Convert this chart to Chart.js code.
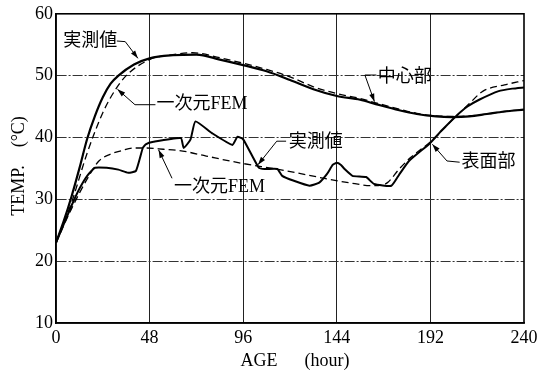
<!DOCTYPE html>
<html>
<head>
<meta charset="utf-8">
<script src="https://cdn.jsdelivr.net/npm/chart.js@4/dist/chart.umd.min.js"></script>
<style>
  html, body { margin: 0; padding: 0; background: #fff; }
  #wrap { width: 549px; height: 372px; }
</style>
</head>
<body>
<div id="wrap"><canvas id="c" width="549" height="372"></canvas></div>
<script>
// Concrete temperature history: centre and surface, measured vs. 1-D FEM
const xTicks = [0, 48, 96, 144, 192, 240];
const yTicks = [10, 20, 30, 40, 50, 60];

// centre, measured
const centerMeasHours = [0, 4, 8, 12, 16, 20, 24, 28, 32, 40, 48, 60, 72, 84, 96, 108, 120, 132, 144, 156, 164, 176, 185, 195, 203, 212, 221, 230, 240];
const centerMeasTemp  = [23, 26.5, 30.5, 35, 39.8, 43.5, 46.5, 48.7, 50, 51.8, 52.8, 53.3, 53.4, 52.6, 51.7, 50.7, 49.3, 47.8, 46.7, 46.1, 45.4, 44.4, 43.8, 43.4, 43.3, 43.4, 43.8, 44.2, 44.5];

// centre, 1-D FEM
const centerFemHours = [0, 8, 16, 24, 30, 36, 48, 60, 70, 84, 96, 108, 120, 132, 144, 156, 164, 176, 185, 195, 203, 212, 221, 230, 240];
const centerFemTemp  = [23, 29.5, 37.5, 44, 47.5, 50, 52.6, 53.4, 53.7, 52.9, 52, 51, 49.8, 48.2, 47.1, 46.3, 45.6, 44.6, 43.9, 43.5, 43.4, 43.5, 43.8, 44.2, 44.5];

// surface, measured
const surfMeasHours = [0, 4, 8, 12, 16, 20, 26, 32, 37, 41, 44.5, 46, 50, 64, 65.5, 69, 71.5, 80, 90.5, 93, 96, 104, 107, 113.5, 116, 122, 130, 135, 139, 142, 144, 146, 148, 152, 159, 163, 172, 176, 181, 191.5, 198, 205, 211, 217, 227, 234, 240];
const surfMeasTemp  = [23, 26, 29, 31.7, 33.8, 35.1, 35.1, 34.8, 34.3, 34.6, 38.3, 38.9, 39.3, 39.9, 38.3, 39.7, 42.6, 40.7, 38.8, 40.1, 39.7, 35.1, 34.9, 34.9, 33.8, 33, 32.2, 32.7, 34.1, 35.6, 35.9, 35.6, 34.9, 33.8, 33.6, 32.5, 32.2, 34, 36.2, 39, 41.2, 43.4, 45, 46.1, 47.5, 47.9, 48.1];

// surface, 1-D FEM
const surfFemHours = [0, 8, 16, 22, 28, 34, 40, 46, 55, 65, 77, 94, 114.7, 128, 139, 150, 162, 167, 170, 176, 182, 192, 205, 212, 219, 230, 240];
const surfFemTemp  = [23, 28.5, 33.3, 36.2, 37.3, 37.9, 38.3, 38.3, 38.1, 37.8, 37, 35.9, 34.8, 34, 33.3, 32.7, 32.2, 32.3, 32.7, 34.9, 36.8, 39.3, 43.4, 45.5, 47.5, 48.5, 49.2];

const pts = (xs, ys) => xs.map((x, i) => ({ x: x, y: ys[i] }));

const SERIF = "'Liberation Serif', 'Noto Sans CJK JP', serif";

// callout labels with leader lines (in hours / °C)
const callouts = [
  { text: '実測値',   at: [17.6, 55.6], align: 'center', leader: [[31.2, 55.6], [35.5, 55.5], [42, 52.8]] },
  { text: '一次元FEM', at: [51.5, 45.3], align: 'left',   leader: [[51, 45.3], [40.5, 45.3], [31.5, 47.8]] },
  { text: '実測値',   at: [133.2, 39.3], align: 'center', leader: [[118, 39.4], [113.2, 39.4], [103.6, 35.6]] },
  { text: '一次元FEM', at: [60.5, 32.0], align: 'left',   leader: [[59.5, 33.4], [52.6, 38.0]] },
  { text: '中心部',   at: [165, 49.8], align: 'left',   leader: [[164.3, 50.1], [158.4, 50.1], [163.3, 45.8]] },
  { text: '表面部',   at: [208, 36.0], align: 'left',   leader: [[207, 36.0], [200.5, 36.2], [193, 38.9]] }
];

const decor = {
  id: 'decor',
  afterDraw(chart) {
    const { ctx, chartArea: a, scales: { x, y } } = chart;
    ctx.save();
    // frame
    ctx.strokeStyle = '#000';
    ctx.lineWidth = 1.6;
    ctx.setLineDash([]);
    ctx.strokeRect(a.left, a.top, a.right - a.left, a.bottom - a.top);

    // callouts
    ctx.fillStyle = '#000';
    ctx.lineWidth = 1;
    ctx.font = "18px " + SERIF;
    ctx.textBaseline = 'middle';
    callouts.forEach(c => {
      ctx.textAlign = c.align;
      ctx.fillText(c.text, x.getPixelForValue(c.at[0]), y.getPixelForValue(c.at[1]));
      const p = c.leader.map(q => [x.getPixelForValue(q[0]), y.getPixelForValue(q[1])]);
      ctx.beginPath();
      ctx.moveTo(p[0][0], p[0][1]);
      for (let i = 1; i < p.length; i++) ctx.lineTo(p[i][0], p[i][1]);
      ctx.stroke();
      const e = p[p.length - 1], s = p[p.length - 2];
      const ang = Math.atan2(e[1] - s[1], e[0] - s[0]);
      const L = 8, W = 2.6;
      ctx.beginPath();
      ctx.moveTo(e[0], e[1]);
      ctx.lineTo(e[0] - L * Math.cos(ang) + W * Math.sin(ang), e[1] - L * Math.sin(ang) - W * Math.cos(ang));
      ctx.lineTo(e[0] - L * Math.cos(ang) - W * Math.sin(ang), e[1] - L * Math.sin(ang) + W * Math.cos(ang));
      ctx.closePath();
      ctx.fill();
    });

    // axis titles
    ctx.font = "18px " + SERIF;
    ctx.textAlign = 'center';
    ctx.textBaseline = 'middle';
    ctx.fillText('AGE\u2003\u2002(hour)', 295, 361);
    ctx.translate(19, 166);
    ctx.rotate(-Math.PI / 2);
    ctx.fillText('TEMP.\u2003(°C)', 0, 0);
    ctx.restore();
  }
};

const solid = { borderColor: '#000', borderWidth: 2.2, pointRadius: 0, fill: false, tension: 0.35, cubicInterpolationMode: 'monotone' };
const dashed = { borderColor: '#000', borderWidth: 1.3, borderDash: [7, 4], pointRadius: 0, fill: false, cubicInterpolationMode: 'monotone' };

new Chart(document.getElementById('c'), {
  type: 'line',
  data: {
    datasets: [
      Object.assign({ label: '中心部 実測値', data: pts(centerMeasHours, centerMeasTemp) }, solid),
      Object.assign({ label: '中心部 一次元FEM', data: pts(centerFemHours, centerFemTemp) }, dashed),
      Object.assign({ label: '表面部 実測値', data: pts(surfMeasHours, surfMeasTemp) }, solid, { cubicInterpolationMode: 'default', tension: 0.15, borderWidth: 2 }),
      Object.assign({ label: '表面部 一次元FEM', data: pts(surfFemHours, surfFemTemp) }, dashed)
    ]
  },
  options: {
    responsive: false,
    animation: false,
    layout: { padding: { top: 12, right: 25, left: 0, bottom: 0 } },
    plugins: { legend: { display: false }, tooltip: { enabled: false } },
    scales: {
      x: {
        type: 'linear', min: 0, max: 240,
        afterFit(s) { s.height = 49; },
        afterBuildTicks(s) { s.ticks = xTicks.map(v => ({ value: v })); },
        grid: { color: ctx => (ctx.tick && (ctx.tick.value === 0 || ctx.tick.value === 240)) ? 'rgba(0,0,0,0)' : '#222', lineWidth: 1, drawTicks: false },
        border: { color: '#000', width: 1.6 },
        ticks: { color: '#000', padding: 4, font: { family: SERIF, size: 18 }, maxRotation: 0 }
      },
      y: {
        min: 10, max: 60,
        afterFit(s) { s.width = 56; },
        afterBuildTicks(s) { s.ticks = yTicks.map(v => ({ value: v })); },
        grid: { color: ctx => (ctx.tick && (ctx.tick.value === 10 || ctx.tick.value === 60)) ? 'rgba(0,0,0,0)' : '#333', lineWidth: 1, drawTicks: false },
        // dash-dot pattern used by the horizontal grid lines
        border: { color: '#000', width: 1.6, dash: [10, 2, 2, 2] },
        ticks: { color: '#000', padding: 3, font: { family: SERIF, size: 18 } }
      }
    }
  },
  plugins: [decor]
});
</script>
</body>
</html>
